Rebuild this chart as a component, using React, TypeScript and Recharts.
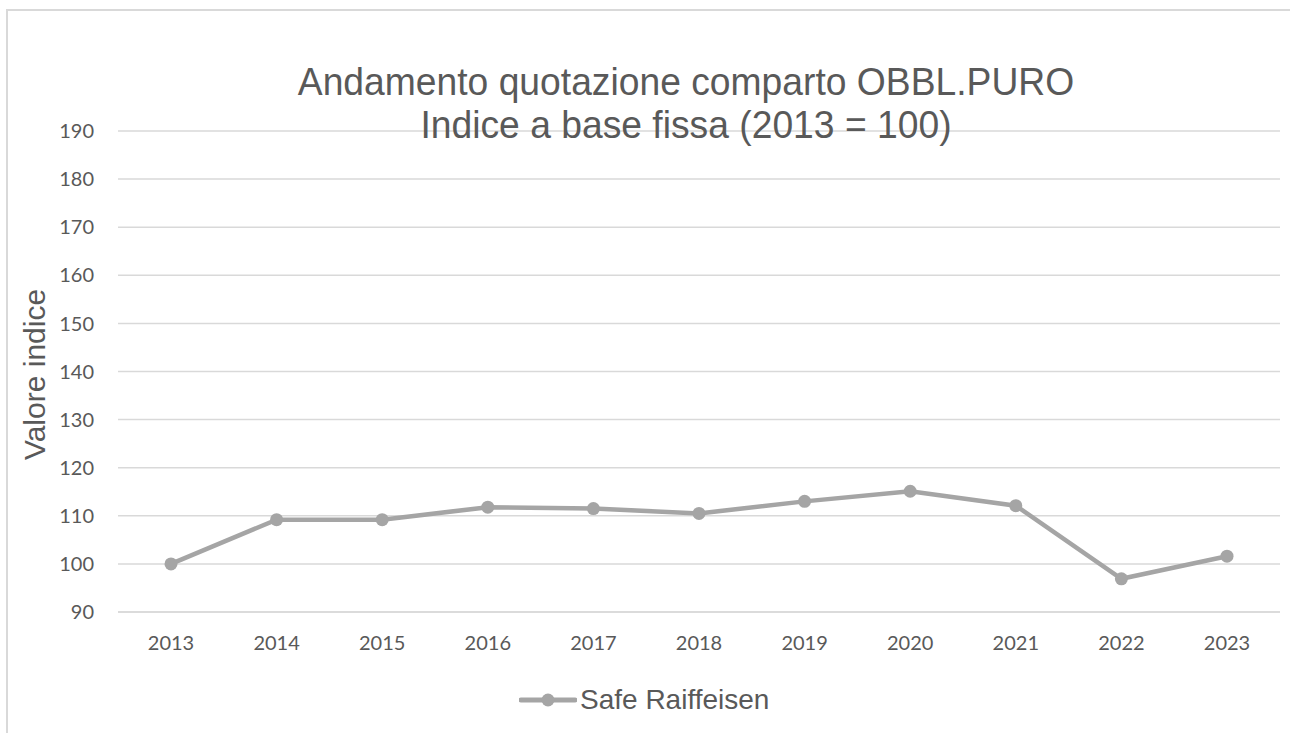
import React from 'react';
import { LineChart, Line, XAxis, YAxis, CartesianGrid, Legend } from 'recharts';

const years = ['2013', '2014', '2015', '2016', '2017', '2018', '2019', '2020', '2021', '2022', '2023'];
const safeRaiffeisen = [100, 109.2, 109.2, 111.8, 111.5, 110.5, 113.0, 115.1, 112.1, 96.9, 101.6];
const yTicks = [90, 100, 110, 120, 130, 140, 150, 160, 170, 180, 190];
const seriesName = 'Safe Raiffeisen';
const titleLines = ['Andamento quotazione comparto OBBL.PURO', 'Indice a base fissa (2013 = 100)'];
const yAxisTitle = 'Valore indice';

const data = years.map((year, i) => ({ year, value: safeRaiffeisen[i] }));

const GRAY = '#a5a5a5';
const TEXT = '#595959';
const GRID = '#d9d9d9';

const renderLegend = (props: any) => {
  const { payload } = props;
  return (
    <div style={{ display: 'flex', alignItems: 'center', height: 40 }}>
      {(payload || []).map((entry: any, i: number) => (
        <div key={i} style={{ display: 'flex', alignItems: 'center' }}>
          <svg width={58} height={40} style={{ display: 'block' }}>
            <line x1={2} y1={20} x2={56} y2={20} stroke={GRAY} strokeWidth={5} strokeLinecap="round" />
            <circle cx={29} cy={20} r={6.5} fill={GRAY} />
          </svg>
          <span
            style={{
              marginLeft: 3,
              fontFamily: '"Liberation Sans", Arial, sans-serif',
              fontSize: 28,
              lineHeight: '40px',
              color: TEXT,
              whiteSpace: 'nowrap',
            }}
          >
            {entry.value}
          </span>
        </div>
      ))}
    </div>
  );
};

const YLabel = (props: any) => {
  const vb = props.viewBox || { x: 0, y: 131, width: 118, height: 481 };
  const x = vb.x + 45;
  const y = vb.y + vb.height / 2 + 3;
  return (
    <text
      x={x}
      y={y}
      transform={`rotate(-90, ${x}, ${y})`}
      textAnchor="middle"
      fill={TEXT}
      fontSize={30}
      fontFamily='"Liberation Sans", Arial, sans-serif'
    >
      {yAxisTitle}
    </text>
  );
};

export default function App() {
  return (
    <div
      style={{
        position: 'absolute',
        left: 0,
        top: 0,
        width: 1290,
        height: 733,
        overflow: 'hidden',
        background: '#ffffff',
      }}
    >
      <div
        style={{
          position: 'absolute',
          left: 6,
          top: 9,
          width: 1400,
          height: 900,
          border: `2px solid ${GRID}`,
          boxSizing: 'border-box',
        }}
      />
      <div style={{ position: 'absolute', left: 0, top: 0 }}>
        <LineChart
          width={1290}
          height={733}
          data={data}
          margin={{ top: 131, right: 10, bottom: 71, left: 0 }}
        >
          <CartesianGrid vertical={false} stroke={GRID} strokeWidth={1.5} />
          <XAxis
            dataKey="year"
            height={50}
            padding={{ left: 53, right: 53 }}
            axisLine={{ stroke: GRID, strokeWidth: 1.5 }}
            tickLine={false}
            tickSize={0}
            tickMargin={24}
            tick={{ fill: TEXT, fontSize: 20, fontFamily: 'Lato, "Liberation Sans", sans-serif' }}
            interval={0}
          />
          <YAxis
            width={118}
            domain={[90, 190]}
            ticks={yTicks}
            interval={0}
            axisLine={false}
            tickLine={false}
            tickSize={0}
            tickMargin={24}
            tick={{ fill: TEXT, fontSize: 20, fontFamily: 'Lato, "Liberation Sans", sans-serif' }}
            label={<YLabel />}
          />
          <Legend
            layout="horizontal"
            verticalAlign="middle"
            align="center"
            content={renderLegend}
            wrapperStyle={{ top: 680, left: 519, width: 320, height: 40 }}
          />
          <Line
            type="linear"
            dataKey="value"
            name={seriesName}
            stroke={GRAY}
            strokeWidth={4.5}
            dot={{ r: 6.5, fill: GRAY, stroke: GRAY, strokeWidth: 0 }}
            activeDot={false}
            isAnimationActive={false}
          />
        </LineChart>
      </div>
      <div
        style={{
          position: 'absolute',
          left: 186,
          top: 60,
          width: 1000,
          textAlign: 'center',
          fontFamily: '"Liberation Sans", Arial, sans-serif',
          fontSize: 39,
          lineHeight: '43px',
          color: TEXT,
          transform: 'scaleX(0.955)',
          transformOrigin: '500px 0',
          pointerEvents: 'none',
          whiteSpace: 'nowrap',
        }}
      >
        {titleLines.map((t, i) => (
          <div key={i}>{t}</div>
        ))}
      </div>
    </div>
  );
}
